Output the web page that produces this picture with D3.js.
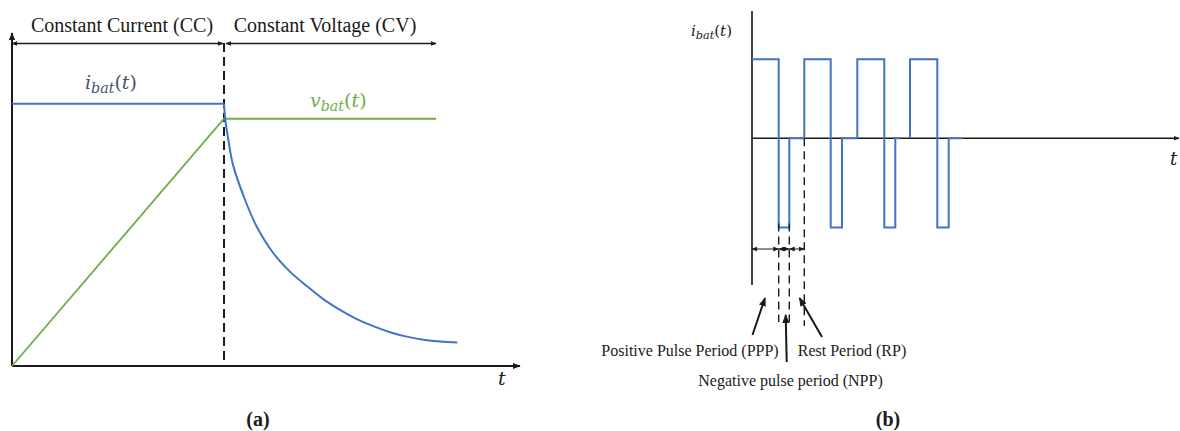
<!DOCTYPE html>
<html>
<head>
<meta charset="utf-8">
<script src="https://cdn.jsdelivr.net/npm/d3@7"></script>
<style>
  body { margin: 0; background: #fff; }
  svg { display: block; }
  text { font-family: "Liberation Serif", "Times New Roman", serif; fill: #1a1a1a; }
  .math { font-family: "DejaVu Serif", serif; font-style: italic; }
</style>
</head>
<body>
<div id="chart"></div>
<script>
// ---- panel (a): CC-CV charging ----
const phaseLabels = ['Constant Current (CC)', 'Constant Voltage (CV)'];
const ccEnd = 1.0;          // end of CC phase (normalised time)
const cvEnd = 2.0;
const vbatT = [0, 1.0, 2.0];
const vbatV = [0, 0.943, 0.943];
const ibatT = [0, 1.0, 1.006, 1.019, 1.042, 1.099, 1.154, 1.233, 1.311, 1.390, 1.468, 1.547, 1.626, 1.704, 1.783, 1.862, 1.940, 2.019, 2.1];
const ibatI = [1, 1, 0.94, 0.87, 0.768, 0.634, 0.532, 0.430, 0.360, 0.305, 0.255, 0.214, 0.179, 0.152, 0.129, 0.112, 0.100, 0.093, 0.09];

// ---- panel (b): pulse charging ----
const pulseRise = [0, 52.3, 105.3, 158];
const pulseFall = [26.7, 78.7, 132.3, 185.3];
const negEnd    = [37.3, 90, 143.3, 196.7];
const restEnd   = [52.3, 105.3, 148, 210.7];
const posLevel = 1;
const negLevel = -1.13;
const periodLabels = ['Positive Pulse Period (PPP)', 'Negative pulse period (NPP)', 'Rest Period (RP)'];

const W = 1180, H = 431;
const blue = '#4472C4', green = '#70AD47';

const svg = d3.select('#chart').append('svg')
    .attr('width', W).attr('height', H);

const defs = svg.append('defs');
function addMarker(id, size, color) {
    defs.append('marker')
        .attr('id', id)
        .attr('viewBox', '0 -5 10 10')
        .attr('refX', 9).attr('refY', 0)
        .attr('markerUnits', 'userSpaceOnUse')
        .attr('markerWidth', size).attr('markerHeight', size)
        .attr('orient', 'auto-start-reverse')
        .append('path')
        .attr('d', 'M0,-4L10,0L0,4Z')
        .attr('fill', color);
}
addMarker('arr', 8, '#1a1a1a');
addMarker('arrSmall', 6, '#1a1a1a');
addMarker('arrBig', 9, '#1a1a1a');

// ================= panel (a) =================
const xA = d3.scaleLinear().domain([0, 2.396]).range([12, 520]);
const yA = d3.scaleLinear().domain([0, 1.27]).range([366, 33]);

const ga = svg.append('g').attr('class', 'panel-a');

// axes
ga.append('line')
    .attr('x1', xA(0)).attr('y1', yA(0))
    .attr('x2', xA(0)).attr('y2', yA.range()[1])
    .attr('stroke', '#1a1a1a').attr('stroke-width', 2)
    .attr('marker-end', 'url(#arr)');
ga.append('line')
    .attr('x1', xA(0)).attr('y1', yA(0))
    .attr('x2', xA.range()[1]).attr('y2', yA(0))
    .attr('stroke', '#1a1a1a').attr('stroke-width', 2)
    .attr('marker-end', 'url(#arr)');

// phase boundary
ga.append('line')
    .attr('x1', xA(ccEnd)).attr('x2', xA(ccEnd))
    .attr('y1', 43).attr('y2', yA(0))
    .attr('stroke', '#1a1a1a').attr('stroke-width', 2)
    .attr('stroke-dasharray', '9,5');

// phase arrows + labels
const phases = [[0, ccEnd], [ccEnd, cvEnd]];
ga.selectAll('.phase-arrow')
    .data(phases)
    .join('line')
    .attr('class', 'phase-arrow')
    .attr('x1', (d, i) => xA(d[0]) + (i ? 2 : 0))
    .attr('x2', (d, i) => xA(d[1]) - (i ? 0 : 1))
    .attr('y1', 43.5).attr('y2', 43.5)
    .attr('stroke', '#1a1a1a').attr('stroke-width', 1.3)
    .attr('marker-start', 'url(#arrSmall)')
    .attr('marker-end', 'url(#arrSmall)');

ga.selectAll('.phase-label')
    .data(phases)
    .join('text')
    .attr('class', 'phase-label')
    .attr('x', (d, i) => i ? 325 : 122)
    .attr('y', 32)
    .attr('text-anchor', 'middle')
    .attr('font-size', 20)
    .text((d, i) => phaseLabels[i]);

// series
const lineA = d3.line().x(d => xA(d[0])).y(d => yA(d[1]));
const ibatPts = ibatT.map((t, i) => [t, ibatI[i]]);
ga.append('path')
    .datum(vbatT.map((t, i) => [t, vbatV[i]]))
    .attr('d', lineA)
    .attr('fill', 'none').attr('stroke', green).attr('stroke-width', 1.8);
// CC part is flat, CV part decays smoothly
ga.append('path')
    .datum(ibatPts.filter(d => d[0] <= ccEnd))
    .attr('d', lineA)
    .attr('fill', 'none').attr('stroke', blue).attr('stroke-width', 2);
ga.append('path')
    .datum(ibatPts.filter(d => d[0] >= ccEnd))
    .attr('d', d3.line().x(d => xA(d[0])).y(d => yA(d[1])).curve(d3.curveCatmullRom.alpha(0.5)))
    .attr('fill', 'none').attr('stroke', blue).attr('stroke-width', 2);

function mathLabel(g, x, y, base, sub, size, color) {
    const t = g.append('text').attr('class', 'math')
        .attr('x', x).attr('y', y)
        .attr('font-size', size).style('fill', color);
    t.append('tspan').text(base);
    t.append('tspan').attr('font-size', size * 0.75).attr('dy', size * 0.2).text(sub);
    t.append('tspan').attr('dy', -size * 0.2).style('font-style', 'normal').text('(');
    t.append('tspan').text('t');
    t.append('tspan').style('font-style', 'normal').text(')');
    return t;
}
mathLabel(ga, 85, 89, 'i', 'bat', 19, '#44546A');
mathLabel(ga, 310, 107, 'v', 'bat', 19, green);

ga.append('text').attr('class', 'math')
    .attr('x', 498).attr('y', 385).attr('font-size', 19).text('t');
ga.append('text')
    .attr('x', 258).attr('y', 426)
    .attr('text-anchor', 'middle')
    .attr('font-size', 20).attr('font-weight', 'bold')
    .text('(a)');

// ================= panel (b) =================
const xB = d3.scaleLinear().domain([0, 427]).range([752, 1179]);
const yB = d3.scaleLinear().domain([0, 1]).range([138.3, 59.3]);

const gb = svg.append('g').attr('class', 'panel-b');

gb.append('line')
    .attr('x1', xB(0)).attr('x2', xB(0))
    .attr('y1', 11).attr('y2', 285)
    .attr('stroke', '#444').attr('stroke-width', 2);
gb.append('line')
    .attr('x1', xB(0)).attr('x2', xB.range()[1])
    .attr('y1', yB(0)).attr('y2', yB(0))
    .attr('stroke', '#1a1a1a').attr('stroke-width', 1.5)
    .attr('marker-end', 'url(#arrSmall)');

// pulse train
const cycles = pulseRise.map((r, i) => {
    const pts = i === 0 ? [[r, posLevel]] : [[r, 0], [r, posLevel]];
    return pts.concat([
        [pulseFall[i], posLevel], [pulseFall[i], negLevel],
        [negEnd[i], negLevel], [negEnd[i], 0], [restEnd[i], 0]
    ]);
});
const lineB = d3.line().x(d => xB(d[0])).y(d => yB(d[1]));
gb.selectAll('.pulse')
    .data(cycles)
    .join('path')
    .attr('class', 'pulse')
    .attr('d', lineB)
    .attr('fill', 'none').attr('stroke', blue).attr('stroke-width', 2)
    .attr('stroke-linejoin', 'miter');

mathLabel(gb, 691, 36, 'i', 'bat', 15, '#1a1a1a');
gb.append('text').attr('class', 'math')
    .attr('x', 1170).attr('y', 165).attr('font-size', 18).text('t');

// period dimension marks (first cycle)
const marks = [pulseFall[0], negEnd[0], restEnd[0]];
gb.selectAll('.dim-dash')
    .data(marks)
    .join('line')
    .attr('class', 'dim-dash')
    .attr('x1', d => xB(d)).attr('x2', d => xB(d))
    .attr('y1', (d, i) => i < 2 ? yB(negLevel) - 4 : yB(0))
    .attr('y2', (d, i) => i < 2 ? 322 : 326)
    .attr('stroke', '#1a1a1a').attr('stroke-width', 1.4)
    .attr('stroke-dasharray', '8,5');

const spans = [[0, pulseFall[0]], [pulseFall[0], negEnd[0]], [negEnd[0], restEnd[0]]];
gb.selectAll('.dim-arrow')
    .data(spans)
    .join('line')
    .attr('class', 'dim-arrow')
    .attr('x1', d => xB(d[0])).attr('x2', d => xB(d[1]))
    .attr('y1', 249).attr('y2', 249)
    .attr('stroke', '#1a1a1a').attr('stroke-width', 1)
    .attr('marker-start', 'url(#arrSmall)')
    .attr('marker-end', 'url(#arrSmall)');

// pointer arrows + labels
const pointers = [
    { from: [752.5, 335], to: [765, 298] },
    { from: [786.7, 362], to: [785.7, 315] },
    { from: [822, 337], to: [799.5, 298] }
];
gb.selectAll('.pointer')
    .data(pointers)
    .join('line')
    .attr('class', 'pointer')
    .attr('x1', d => d.from[0]).attr('y1', d => d.from[1])
    .attr('x2', d => d.to[0]).attr('y2', d => d.to[1])
    .attr('stroke', '#1a1a1a').attr('stroke-width', 2)
    .attr('marker-end', 'url(#arrBig)');

const labelPos = [[690, 356], [790.5, 386], [852, 356]];
gb.selectAll('.period-label')
    .data(periodLabels)
    .join('text')
    .attr('class', 'period-label')
    .attr('x', (d, i) => labelPos[i][0]).attr('y', (d, i) => labelPos[i][1])
    .attr('text-anchor', 'middle')
    .attr('font-size', 16)
    .text(d => d);

gb.append('text')
    .attr('x', 888).attr('y', 426)
    .attr('text-anchor', 'middle')
    .attr('font-size', 20).attr('font-weight', 'bold')
    .text('(b)');
</script>
</body>
</html>
